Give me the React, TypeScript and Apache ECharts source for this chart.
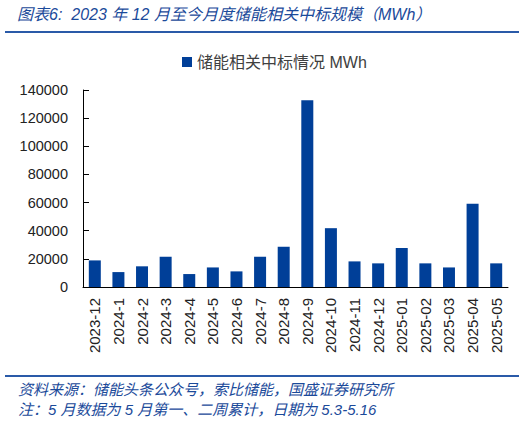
import React, { useEffect, useRef } from 'react';
import * as echarts from 'echarts';

const months = [
  '2023-12', '2024-1', '2024-2', '2024-3', '2024-4', '2024-5', '2024-6', '2024-7', '2024-8',
  '2024-9', '2024-10', '2024-11', '2024-12', '2025-01', '2025-02', '2025-03', '2025-04', '2025-05',
];
const bidMWh = [
  18900, 10600, 14700, 21500, 9200, 13900, 11100, 21500, 28600,
  132700, 41800, 18200, 16800, 27700, 16800, 13900, 59100, 16800,
];
const yTicks = { min: 0, max: 140000, interval: 20000 };

const seriesName = '储能相关中标情况 MWh';
const titleText = '图表6:  2023 年 12 月至今月度储能相关中标规模（MWh）';
const sourceText = '资料来源：储能头条公众号，索比储能，国盛证券研究所';
const noteText = '注：5 月数据为 5 月第一、二周累计，日期为 5.3-5.16';

const BLUE = '#003f98';
const TEXT_BLUE = '#1b4a9a';
const FONT = '"Liberation Sans", "Noto Sans CJK SC", sans-serif';

export default function App() {
  const chartRef = useRef<HTMLDivElement | null>(null);

  useEffect(() => {
    if (!chartRef.current) return;
    const chart = echarts.init(chartRef.current, null, { renderer: 'svg' });

    const italicText = (text: string, x: number, y: number, size: number) => ({
      type: 'text',
      x,
      y,
      style: {
        text,
        fill: TEXT_BLUE,
        fontSize: size,
        fontStyle: 'italic',
        fontFamily: FONT,
        align: 'left',
        verticalAlign: 'middle',
      },
    });

    const option = {
      animation: false,
      textStyle: { fontFamily: FONT },
      grid: { left: 83, right: 17, top: 90, bottom: 135 },
      legend: {
        data: [seriesName],
        left: 177,
        top: 49,
        icon: 'rect',
        itemWidth: 10,
        itemHeight: 10,
        itemGap: 4,
        textStyle: { fontSize: 16, color: '#404040', fontFamily: FONT },
      },
      xAxis: {
        type: 'category',
        data: months,
        axisLine: { lineStyle: { color: '#000', width: 1 } },
        axisTick: { inside: true, length: 6, lineStyle: { color: '#888' } },
        axisLabel: {
          rotate: 90,
          margin: 11,
          fontSize: 15,
          color: '#222',
          interval: 0,
          fontFamily: FONT,
        },
      },
      yAxis: {
        type: 'value',
        min: yTicks.min,
        max: yTicks.max,
        interval: yTicks.interval,
        axisLine: { show: true, lineStyle: { color: '#000', width: 1 } },
        axisTick: { show: true, inside: true, length: 6, lineStyle: { color: '#000' } },
        splitLine: { show: false },
        axisLabel: {
          fontSize: 14.5,
          color: '#222',
          margin: 15,
          fontFamily: FONT,
          formatter: (v: number) => String(v),
        },
      },
      series: [
        {
          name: seriesName,
          type: 'bar',
          data: bidMWh,
          barWidth: 12,
          itemStyle: { color: BLUE },
        },
      ],
      graphic: [
        italicText(titleText, 17, 14, 16),
        {
          type: 'line',
          shape: { x1: 5, y1: 32, x2: 519, y2: 32 },
          style: { stroke: '#2a5aa8', lineWidth: 2 },
        },
        {
          type: 'line',
          shape: { x1: 5, y1: 376, x2: 519, y2: 376 },
          style: { stroke: '#2a5aa8', lineWidth: 2 },
        },
        italicText(sourceText, 18, 389, 15),
        italicText(noteText, 18, 409, 15),
      ],
    };

    chart.setOption(option);
    return () => {
      chart.dispose();
    };
  }, []);

  return (
    <div
      ref={chartRef}
      style={{ position: 'absolute', left: 0, top: 0, width: 525, height: 422 }}
    ></div>
  );
}
